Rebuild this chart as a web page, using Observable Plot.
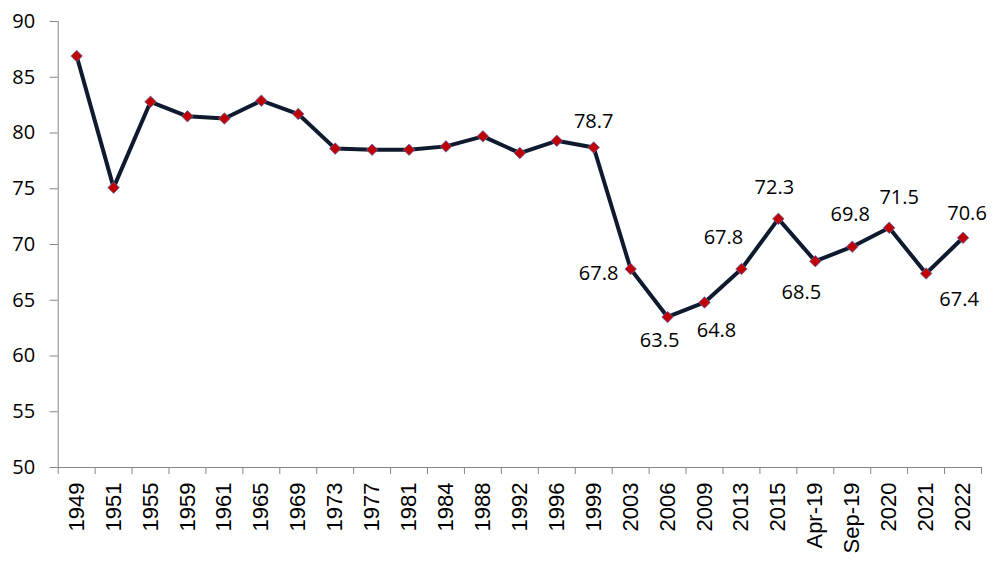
<!DOCTYPE html>
<html>
<head>
<meta charset="utf-8">
<script src="https://cdn.jsdelivr.net/npm/d3@7"></script>
<script src="https://cdn.jsdelivr.net/npm/@observablehq/plot@0.6"></script>
<style>
  html, body { margin: 0; padding: 0; background: #fff; }
  #chart svg { display: block; }
</style>
</head>
<body>
<div id="chart"></div>
<script>
// Categories (x axis tick labels)
const categories = ["1949","1951","1955","1959","1961","1965","1969","1973","1977","1981","1984","1988","1992","1996","1999","2003","2006","2009","2013","2015","Apr-19","Sep-19","2020","2021","2022"];
// Series values
const values = [86.9,75.1,82.8,81.5,81.3,82.9,81.7,78.6,78.5,78.5,78.8,79.7,78.2,79.3,78.7,67.8,63.5,64.8,67.8,72.3,68.5,69.8,71.5,67.4,70.6];
// Y axis ticks
const yTicks = [50,55,60,65,70,75,80,85,90];
// Which points carry a data label
const labelled = ["1999","2003","2006","2009","2013","2015","Apr-19","Sep-19","2020","2021","2022"];

// label placement (style only): [dx, dy] in pixels
const labelPlacement = {
  "1999": [0, -26], "2003": [-32, 5], "2006": [-8, 24], "2009": [12, 28],
  "2013": [-18, -31], "2015": [-4, -31], "Apr-19": [-14, 31], "Sep-19": [-2, -32],
  "2020": [10, -30], "2021": [33, 26], "2022": [4, -24]
};

const data = categories.map((c, i) => ({cat: c, idx: i + 0.5, value: values[i]}));
const labels = data.filter(d => labelled.includes(d.cat));

const axisColor = "#868686";
const font = "'Open Sans', sans-serif";

const chart = Plot.plot({
  width: 996,
  height: 568,
  marginLeft: 57.7,
  marginRight: 15,
  marginTop: 21,
  marginBottom: 101,
  style: {background: "#fff", fontFamily: font},
  x: {type: "linear", domain: [0, categories.length], axis: null},
  y: {domain: [50, 90], axis: null},
  marks: [
    // axis lines
    Plot.ruleX([0], {stroke: axisColor, strokeWidth: 1}),
    Plot.ruleY([50], {stroke: axisColor, strokeWidth: 1}),
    // y axis ticks + labels
    Plot.axisY(yTicks, {
      anchor: "left", label: null, tickSize: 8, tickPadding: 15, stroke: axisColor,
      fontSize: 20, fontFamily: font, fill: "#000", tickFormat: d => String(d)
    }),
    // x axis tick marks at category boundaries
    Plot.axisX(d3.range(categories.length + 1), {
      anchor: "bottom", label: null, tickSize: 7, stroke: axisColor, tickFormat: () => ""
    }),
    // x axis category labels
    Plot.axisX(data.map(d => d.idx), {
      anchor: "bottom", label: null, tickSize: 0, tickPadding: 15, tickRotate: -90,
      fontSize: 22, fontFamily: "'Liberation Sans', Arial, sans-serif", fill: "#000",
      tickFormat: v => categories[Math.floor(v)]
    }),
    // line
    Plot.line(data, {x: "idx", y: "value", stroke: "#0F1A2E", strokeWidth: 4, strokeLinejoin: "round"}),
    // markers
    Plot.dot(data, {x: "idx", y: "value", symbol: "diamond2", r: 5.2, fill: "#C00000", stroke: "#5A6FB5", strokeWidth: 0.8}),
    // data labels
    ...labels.map(d => Plot.text([d], {
      x: "idx", y: "value", text: v => v.value.toFixed(1),
      dx: labelPlacement[d.cat][0], dy: labelPlacement[d.cat][1],
      fontSize: 20, fontFamily: font, fill: "#000"
    }))
  ]
});

document.getElementById("chart").appendChild(chart);
</script>
</body>
</html>
